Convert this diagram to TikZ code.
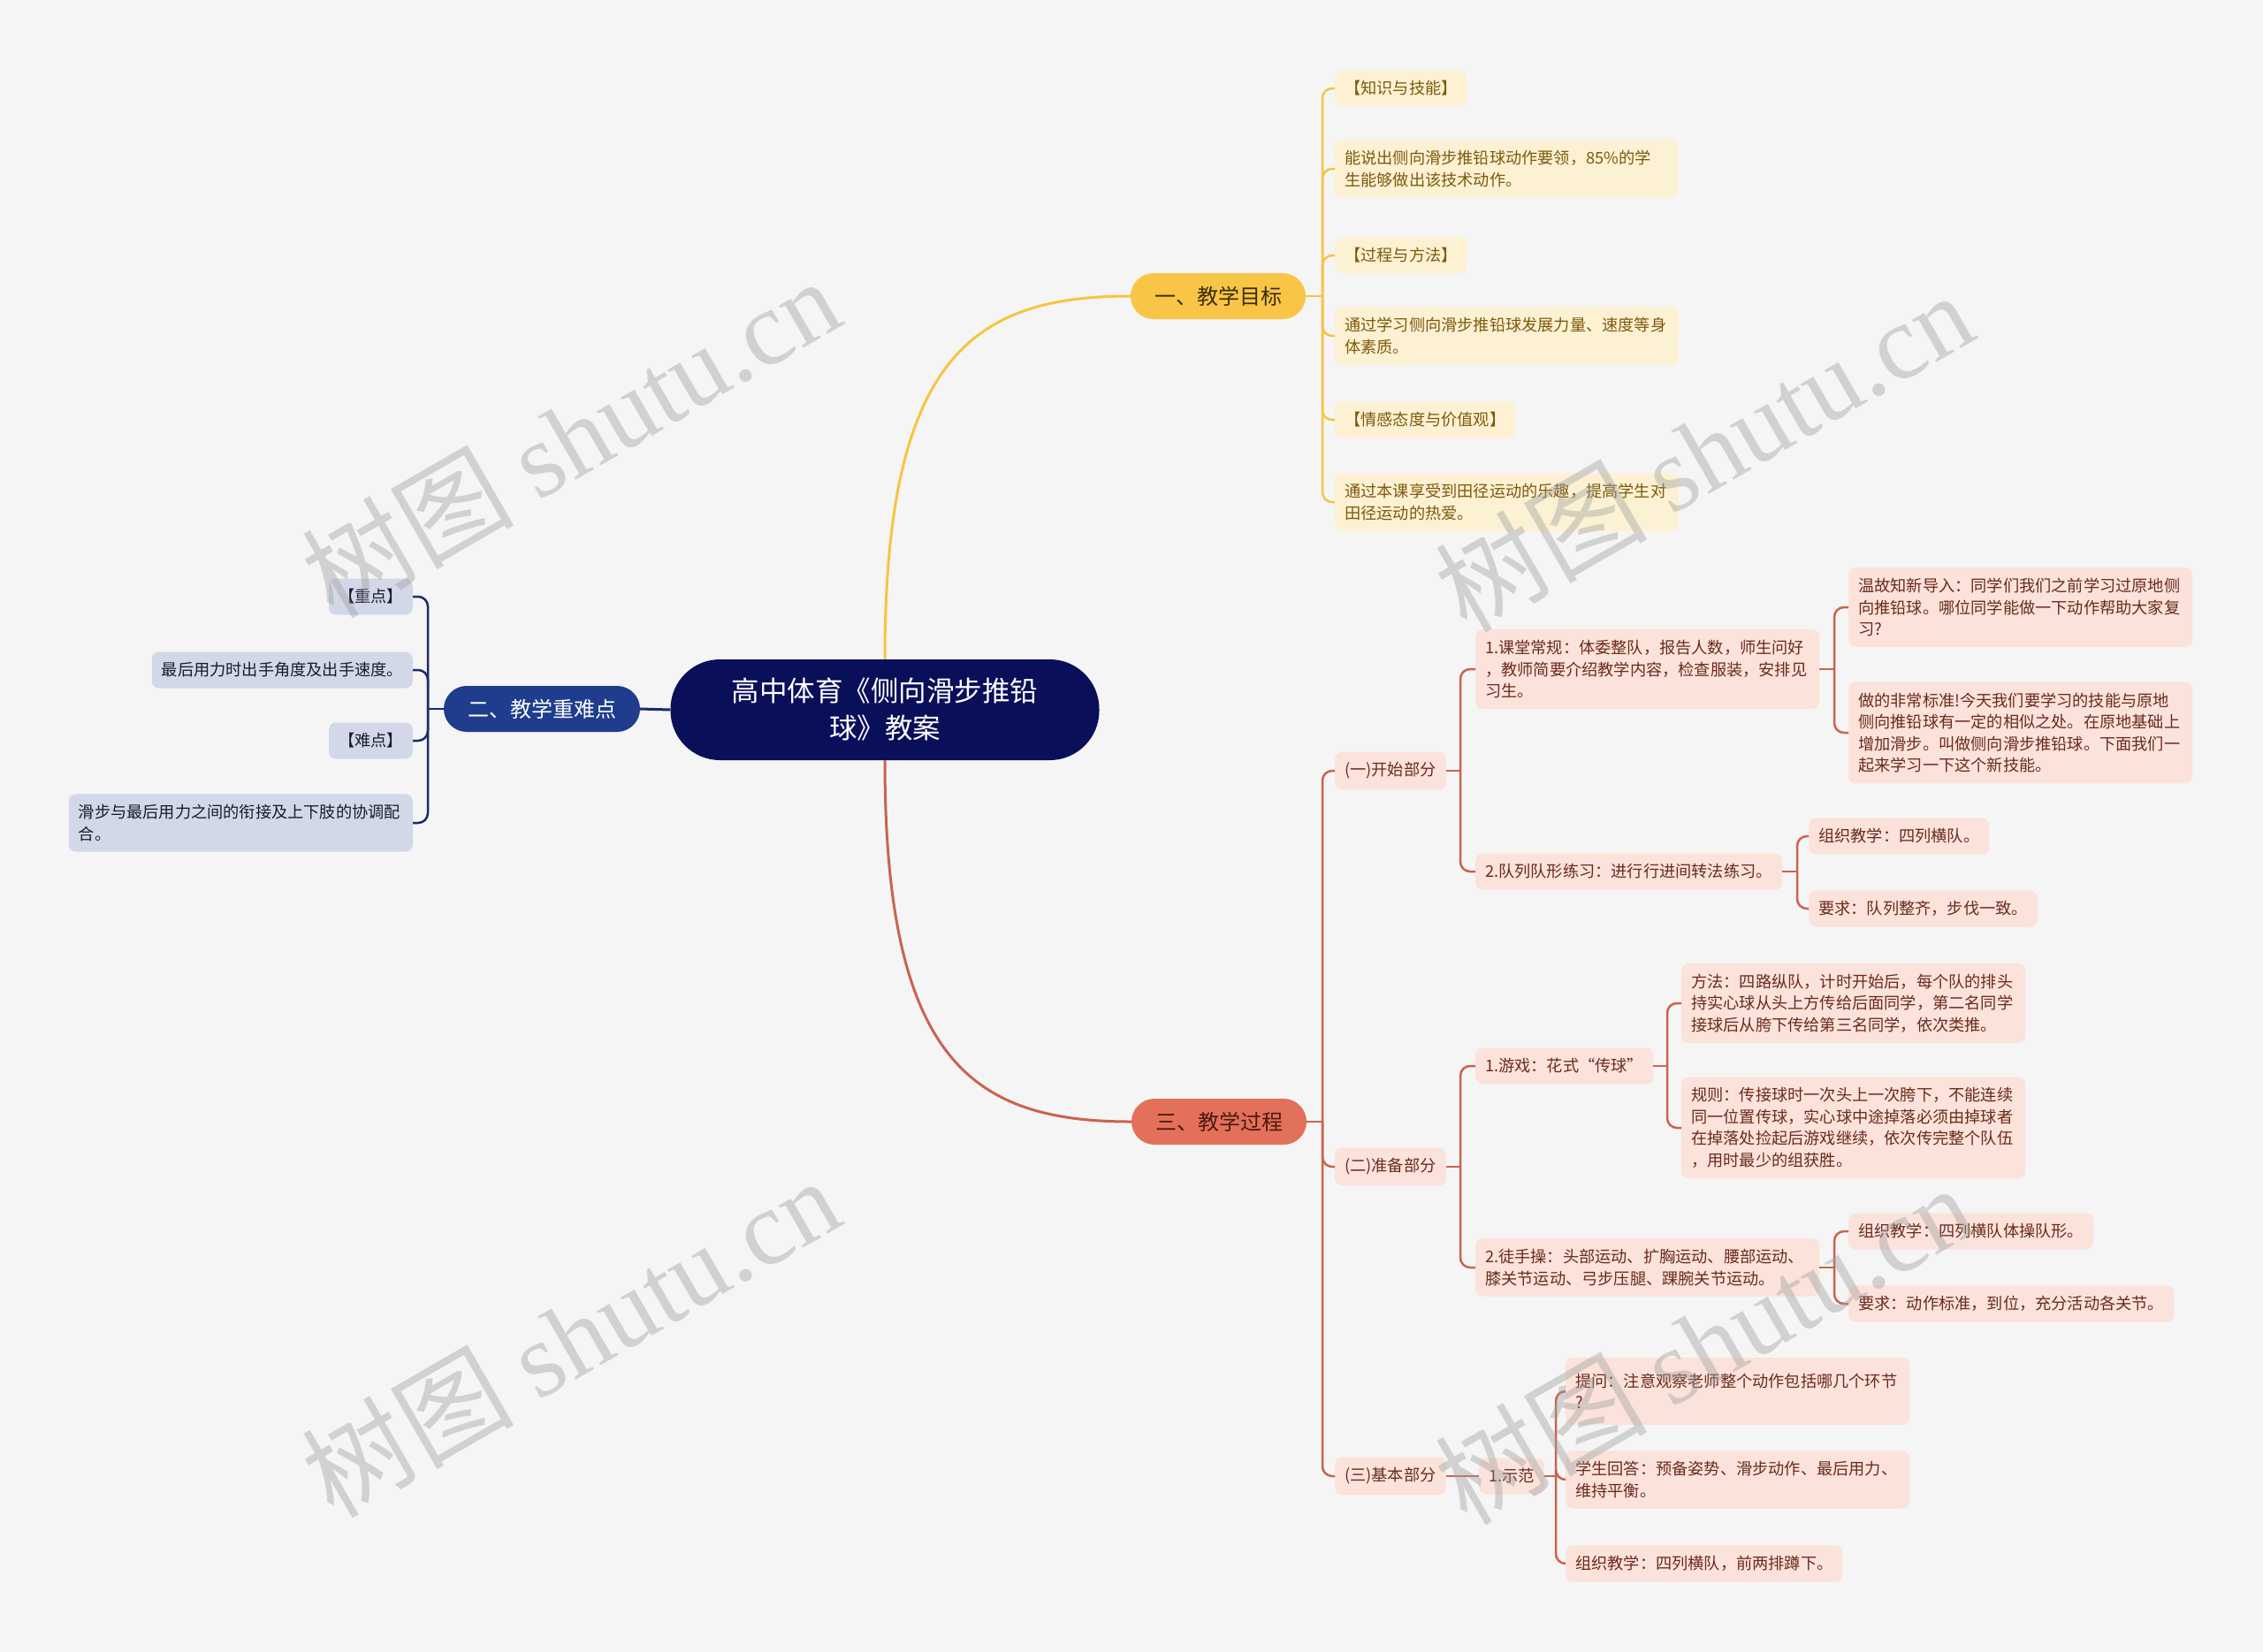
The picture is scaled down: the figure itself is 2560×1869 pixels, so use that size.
\documentclass[tikz,border=0pt]{standalone}
\usepackage{fontspec}
\setmainfont{Noto Sans CJK SC}
\newfontfamily\wmlatin{Liberation Serif}
\definecolor{bg}{HTML}{F5F5F5}
\definecolor{centerfill}{HTML}{0A0F5A}
\definecolor{yfill}{HTML}{F8C547}
\definecolor{ytext}{HTML}{3B2C0A}
\definecolor{yline}{HTML}{F5C542}
\definecolor{yleaffill}{HTML}{FDF1D3}
\definecolor{yleaftext}{HTML}{7D5A0C}
\definecolor{bfill}{HTML}{1F3D8C}
\definecolor{bline}{HTML}{1A2C6B}
\definecolor{bleaffill}{HTML}{D3D8E8}
\definecolor{bleaftext}{HTML}{1A1A2E}
\definecolor{rfill}{HTML}{E3705A}
\definecolor{rtext}{HTML}{4A1A10}
\definecolor{rline}{HTML}{C9644F}
\definecolor{rleaffill}{HTML}{FBE2DA}
\definecolor{rleaftext}{HTML}{6A2B1C}
\definecolor{wm}{HTML}{A0A0A0}
\tikzset{
  leaf/.style={rounded corners=8pt, inner xsep=11pt, inner ysep=12pt, minimum height=41pt, align=left, font=\fontsize{18.2}{24.5}\selectfont},
  multi/.style={text width=367pt},
  yleaf/.style={leaf, fill=yleaffill, text=yleaftext, anchor=west},
  bleaf/.style={leaf, fill=bleaffill, text=bleaftext, anchor=east},
  rleaf/.style={leaf, fill=rleaffill, text=rleaftext, anchor=west},
  branch/.style={rounded corners=26pt, inner xsep=27pt, minimum height=52pt, font=\fontsize{24}{30}\selectfont},
  yconn/.style={draw=yline, line width=2.5pt, rounded corners=11pt},
  bconn/.style={draw=bline, line width=2.5pt, rounded corners=11pt},
  rconn/.style={draw=rline, line width=2.5pt, rounded corners=11pt},
  wmark/.style={text=wm, opacity=0.42, rotate=30, font=\fontsize{120}{120}\selectfont},
}
\begin{document}
\begin{tikzpicture}[x=1pt, y=-1pt]
\useasboundingbox[fill=bg] (0,0) rectangle (2560,1869);

% center
\node[fill=centerfill, text=white, rounded corners=56pt, minimum width=485pt, minimum height=114pt, align=center, font=\fontsize{31.5}{42}\selectfont] (c) at (1001,803) {高中体育《侧向滑步推铅\\球》教案};

% branches
\node[branch, fill=yfill, text=ytext] (b1) at (1378,335) {一、教学目标};
\node[branch, fill=bfill, text=white] (b2) at (613,802) {二、教学重难点};
\node[branch, fill=rfill, text=rtext] (b3) at (1379,1269) {三、教学过程};

\draw[draw=yline, line width=3pt] (c.north) .. controls +(0,-340) and +(-180,0) .. (b1.west);
\draw[draw=rline, line width=3pt] (c.south) .. controls +(0,340) and +(-180,0) .. (b3.west);
\draw[draw=bline, line width=3pt] (c.west) -- (b2.east);

% yellow leaves
\node[yleaf] (y1) at (1510,100) {【知识与技能】};
\node[yleaf, multi] (y2) at (1510,191) {能说出侧向滑步推铅球动作要领，85\%的学\\生能够做出该技术动作。};
\node[yleaf] (y3) at (1510,289) {【过程与方法】};
\node[yleaf, multi] (y4) at (1510,380) {通过学习侧向滑步推铅球发展力量、速度等身\\体素质。};
\node[yleaf] (y5) at (1510,475) {【情感态度与价值观】};
\node[yleaf, multi] (y6) at (1510,568) {通过本课享受到田径运动的乐趣，提高学生对\\田径运动的热爱。};
\coordinate (j1) at (1496,335);
\draw[yconn] (b1.east) -- (j1);
\foreach \n in {y1,y2,y3,y4,y5,y6} \draw[yconn] (j1) |- (\n.west);

% blue leaves
\node[bleaf] (z1) at (467,675) {【重点】};
\node[bleaf] (z2) at (467,758) {最后用力时出手角度及出手速度。};
\node[bleaf] (z3) at (467,838) {【难点】};
\node[bleaf, multi] (z4) at (467,931) {滑步与最后用力之间的衔接及上下肢的协调配\\合。};
\coordinate (j2) at (484,802);
\draw[bconn] (b2.west) -- (j2);
\foreach \n in {z1,z2,z3,z4} \draw[bconn] (j2) |- (\n.east);

% red tree
\node[rleaf] (s1) at (1510,872) {(一)开始部分};
\node[rleaf] (s2) at (1510,1320) {(二)准备部分};
\node[rleaf] (s3) at (1510,1670) {(三)基本部分};
\coordinate (j3) at (1496,1269);
\draw[rconn] (b3.east) -- (j3);
\foreach \n in {s1,s2,s3} \draw[rconn] (j3) |- (\n.west);

\node[rleaf, multi] (a1) at (1669,757) {1.课堂常规：体委整队，报告人数，师生问好\\，教师简要介绍教学内容，检查服装，安排见\\习生。};
\node[rleaf] (a2) at (1669,986) {2.队列队形练习：进行行进间转法练习。};
\coordinate (ja) at (1652,872);
\draw[rconn] (s1.east) -- (ja);
\foreach \n in {a1,a2} \draw[rconn] (ja) |- (\n.west);

\node[rleaf, multi] (a11) at (2091,687) {温故知新导入：同学们我们之前学习过原地侧\\向推铅球。哪位同学能做一下动作帮助大家复\\习?};
\node[rleaf, multi] (a12) at (2091,829) {做的非常标准!今天我们要学习的技能与原地\\侧向推铅球有一定的相似之处。在原地基础上\\增加滑步。叫做侧向滑步推铅球。下面我们一\\起来学习一下这个新技能。};
\coordinate (ja1) at (2075,757);
\draw[rconn] (a1.east) -- (ja1);
\foreach \n in {a11,a12} \draw[rconn] (ja1) |- (\n.west);

\node[rleaf] (a21) at (2046,946) {组织教学：四列横队。};
\node[rleaf] (a22) at (2046,1028) {要求：队列整齐，步伐一致。};
\coordinate (ja2) at (2033,986);
\draw[rconn] (a2.east) -- (ja2);
\foreach \n in {a21,a22} \draw[rconn] (ja2) |- (\n.west);

\node[rleaf] (p1) at (1669,1206) {1.游戏：花式“传球”};
\node[rleaf, multi] (p2) at (1669,1434) {2.徒手操：头部运动、扩胸运动、腰部运动、\\膝关节运动、弓步压腿、踝腕关节运动。};
\coordinate (jb) at (1652,1320);
\draw[rconn] (s2.east) -- (jb);
\foreach \n in {p1,p2} \draw[rconn] (jb) |- (\n.west);

\node[rleaf, multi] (p11) at (1902,1135) {方法：四路纵队，计时开始后，每个队的排头\\持实心球从头上方传给后面同学，第二名同学\\接球后从胯下传给第三名同学，依次类推。};
\node[rleaf, multi] (p12) at (1902,1276) {规则：传接球时一次头上一次胯下，不能连续\\同一位置传球，实心球中途掉落必须由掉球者\\在掉落处捡起后游戏继续，依次传完整个队伍\\，用时最少的组获胜。};
\coordinate (jb1) at (1886,1206);
\draw[rconn] (p1.east) -- (jb1);
\foreach \n in {p11,p12} \draw[rconn] (jb1) |- (\n.west);

\node[rleaf] (p21) at (2091,1393) {组织教学：四列横队体操队形。};
\node[rleaf] (p22) at (2091,1475) {要求：动作标准，到位，充分活动各关节。};
\coordinate (jb2) at (2075,1434);
\draw[rconn] (p2.east) -- (jb2);
\foreach \n in {p21,p22} \draw[rconn] (jb2) |- (\n.west);

\node[rleaf] (q1) at (1673,1670) {1.示范};
\draw[rconn] (s3.east) -- (q1.west);
\node[rleaf, multi, minimum height=76pt] (q11) at (1771,1574) {提问：注意观察老师整个动作包括哪几个环节\\?};
\node[rleaf, multi] (q12) at (1771,1674) {学生回答：预备姿势、滑步动作、最后用力、\\维持平衡。};
\node[rleaf] (q13) at (1771,1769) {组织教学：四列横队，前两排蹲下。};
\coordinate (jc) at (1760,1670);
\draw[rconn] (q1.east) -- (jc);
\foreach \n in {q11,q12,q13} \draw[rconn] (jc) |- (\n.west);

% watermarks
\node[wmark] (w1) at (645,494) {树图 {\wmlatin shutu.cn}};
\node[wmark] (w2) at (1927,510) {树图 {\wmlatin shutu.cn}};
\node[wmark] (w3) at (645,1512) {树图 {\wmlatin shutu.cn}};
\node[wmark] (w4) at (1927,1520) {树图 {\wmlatin shutu.cn}};
\end{tikzpicture}
\end{document}
